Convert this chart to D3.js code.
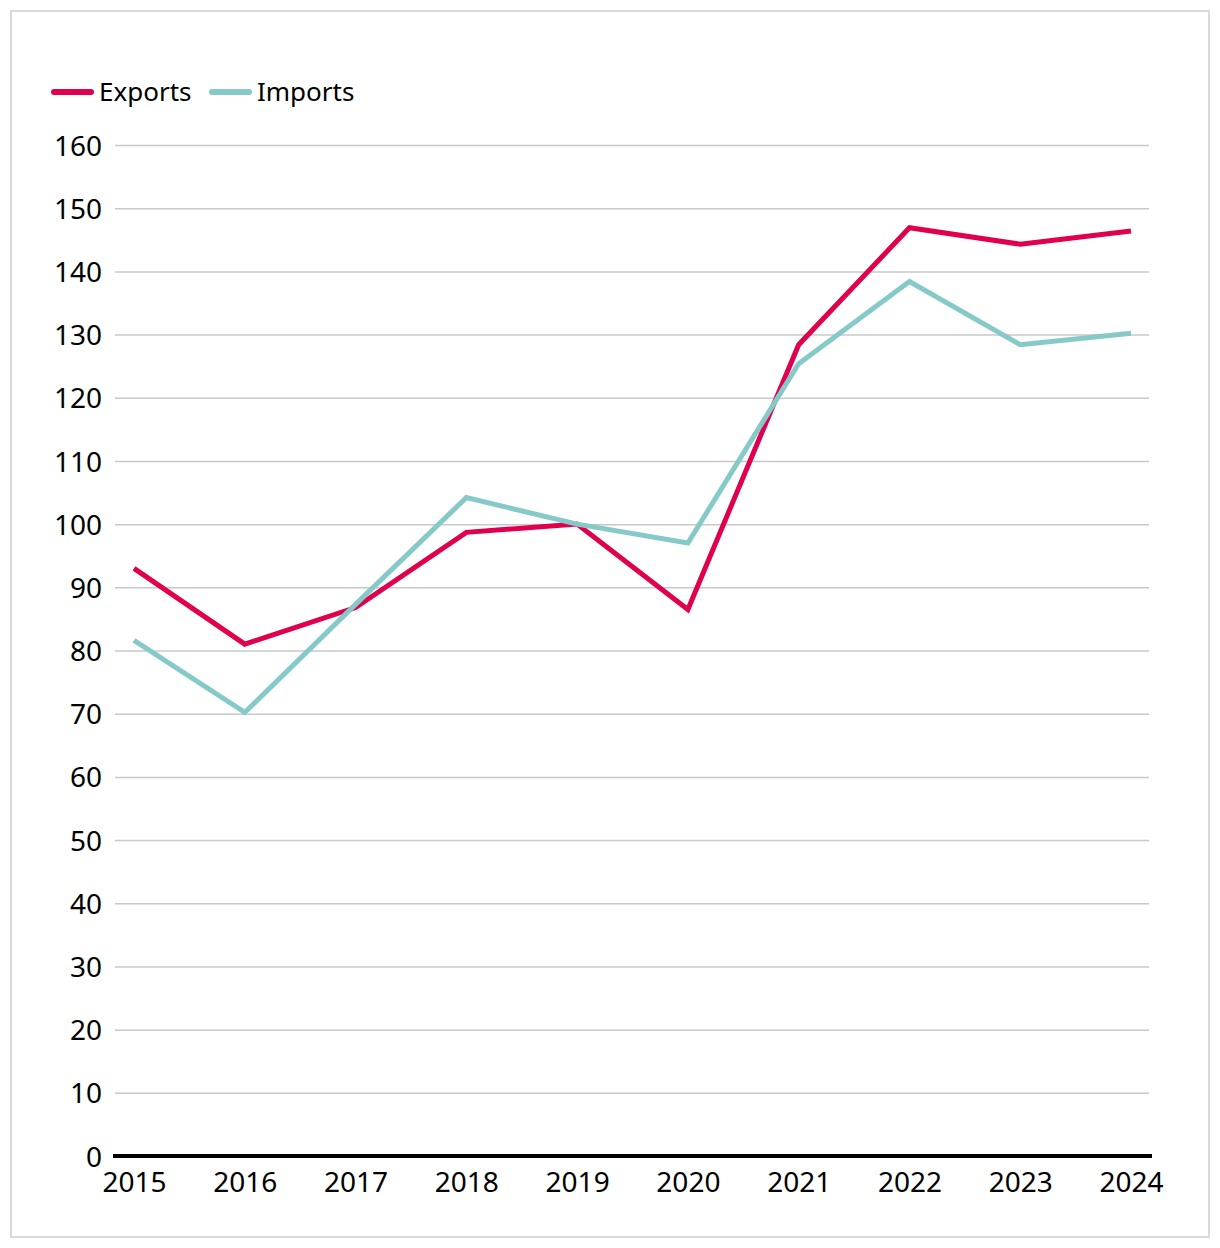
<!DOCTYPE html>
<html><head><meta charset="utf-8">
<script src="https://cdn.jsdelivr.net/npm/d3@7"></script>
<style>
html,body{margin:0;padding:0;background:#fff;}
svg{display:block;font-family:"Noto Sans",sans-serif;}
</style></head>
<body><svg id="c" width="1220" height="1248"></svg>
<script>
const years = ["2015","2016","2017","2018","2019","2020","2021","2022","2023","2024"];
const exportsVals = [93.0, 81.0, 86.8, 98.7, 100.0, 86.5, 128.4, 146.9, 144.3, 146.4];
const importsVals = [81.6, 70.2, 87.3, 104.2, 100.0, 97.0, 125.4, 138.4, 128.4, 130.2];
const yTicks = [0,10,20,30,40,50,60,70,80,90,100,110,120,130,140,150,160];
const seriesNames = ["Exports","Imports"];
const seriesColors = ["#e0004d","#85c9c9"];

const svg = d3.select("#c");
svg.append("rect").attr("x",11).attr("y",11).attr("width",1198).attr("height",1226)
  .attr("fill","#fff").attr("stroke","#d9d9d9").attr("stroke-width",2);

const x = d3.scalePoint().domain(years).range([134,1131]);
const y = d3.scaleLinear().domain([0,160]).range([1156,145]);
const gl = 115, gr = 1149;

// gridlines
const yAxis = d3.axisLeft(y).tickValues(yTicks).tickSize(0).tickPadding(0);
const gy = svg.append("g").attr("transform",`translate(${gl},0)`).call(yAxis);
gy.select(".domain").remove();
gy.selectAll(".tick line").attr("x1",0).attr("x2",gr-gl).attr("stroke","#c8c8c8").attr("stroke-width",1.5);
gy.selectAll(".tick text").attr("x",-13).attr("dy","0.36em").attr("fill","#000")
  .style("font-size","28px").style("font-family","Noto Sans");
gy.selectAll(".tick").filter(d=>d===0).select("line").remove();

// baseline
svg.append("line").attr("x1",113).attr("x2",1152).attr("y1",y(0)).attr("y2",y(0))
  .attr("stroke","#000").attr("stroke-width",4);

// x axis labels
const xAxis = d3.axisBottom(x).tickSize(0).tickPadding(0);
const gx = svg.append("g").attr("transform",`translate(0,${y(0)})`).call(xAxis);
gx.select(".domain").remove();
gx.selectAll(".tick text").attr("y",16).attr("dy","0.71em").attr("fill","#000")
  .style("font-size","28px").style("font-family","Noto Sans");

const line = d3.line().x((d,i)=>x(years[i])).y(d=>y(d));
[exportsVals, importsVals].forEach((vals,k)=>{
  svg.append("path").datum(vals).attr("d",line).attr("fill","none")
    .attr("stroke",seriesColors[k]).attr("stroke-width",5).attr("stroke-linejoin","miter");
});
// legend
const legX = [54, 212];
seriesNames.forEach((n,k)=>{
  const g = svg.append("g").attr("transform",`translate(${legX[k]},92)`);
  g.append("line").attr("x1",0).attr("x2",37).attr("y1",0).attr("y2",0)
    .attr("stroke",seriesColors[k]).attr("stroke-width",6).attr("stroke-linecap","round");
  g.append("text").attr("x",45).attr("y",0).attr("dy","0.35em").text(n)
    .style("font-size","26px").attr("fill","#000");
});
</script></body></html>
